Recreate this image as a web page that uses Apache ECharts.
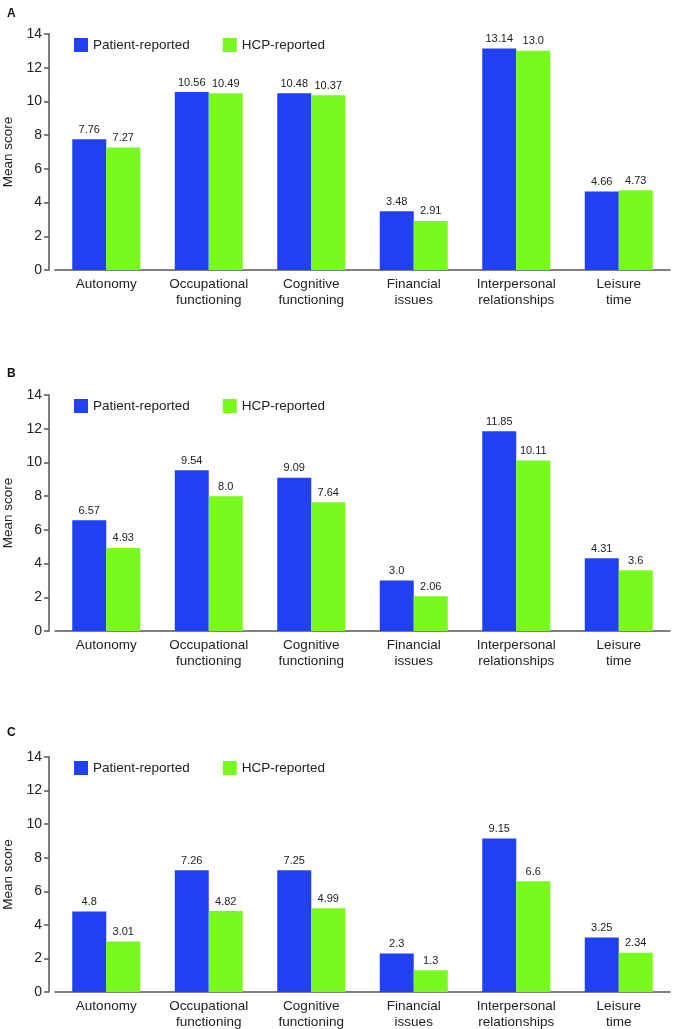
<!DOCTYPE html>
<html>
<head>
<meta charset="utf-8">
<script src="https://cdn.jsdelivr.net/npm/echarts@6/dist/echarts.min.js"></script>
<style>
html,body{margin:0;padding:0;background:#fff;}
#chart{width:679px;height:1029px;}
</style>
</head>
<body>
<div id="chart"></div>
<script>
const categories = ["Autonomy", "Occupational\nfunctioning", "Cognitive\nfunctioning", "Financial\nissues", "Interpersonal\nrelationships", "Leisure\ntime"];
const seriesNames = ["Patient-reported", "HCP-reported"];
const panelLetters = ["A", "B", "C"];
const yTicks = [0, 14, 2]; // min, max, interval
const patientA = ["7.76", "10.56", "10.48", "3.48", "13.14", "4.66"];
const hcpA     = ["7.27", "10.49", "10.37", "2.91", "13.0", "4.73"];
const patientB = ["6.57", "9.54", "9.09", "3.0", "11.85", "4.31"];
const hcpB     = ["4.93", "8.0", "7.64", "2.06", "10.11", "3.6"];
const patientC = ["4.8", "7.26", "7.25", "2.3", "9.15", "3.25"];
const hcpC     = ["3.01", "4.82", "4.99", "1.3", "6.6", "2.34"];

const panels = [[patientA, hcpA], [patientB, hcpB], [patientC, hcpC]];
const gridTops = [34, 395, 757];
const gridHeights = [236, 236, 235];
const letterTops = [3, 363, 722];
const colors = ["#2040F2", "#78FA1E"];
const font = "Liberation Sans, Arial, Helvetica, sans-serif";

const grid = [], xAxis = [], yAxis = [], series = [], legend = [], title = [];
panels.forEach((pd, i) => {
  grid.push({left: 55, right: 9, top: gridTops[i], height: gridHeights[i], containLabel: false, outerBoundsMode: "none"});
  title.push({text: panelLetters[i], left: 2, top: letterTops[i],
    textStyle: {fontSize: 12, fontWeight: "bold", color: "#111", fontFamily: font}});
  legend.push({data: seriesNames, left: 69, top: gridTops[i] - 1, itemWidth: 14, itemHeight: 14,
    itemGap: 33, icon: "rect",
    textStyle: {fontSize: 13.5, color: "#222", fontFamily: font}});
  xAxis.push({type: "category", gridIndex: i, data: categories,
    axisLine: {lineStyle: {color: "#555", width: 1.5}},
    axisTick: {show: false},
    axisLabel: {fontSize: 13.5, color: "#222", fontFamily: font, margin: 7, lineHeight: 15.5, interval: 0}});
  yAxis.push({type: "value", gridIndex: i, min: yTicks[0], max: yTicks[1], interval: yTicks[2], offset: 6,
    name: "Mean score", nameLocation: "middle", nameGap: 33,
    nameTextStyle: {fontSize: 13.5, color: "#222", fontFamily: font},
    axisLine: {show: true, lineStyle: {color: "#555", width: 1.5}},
    axisTick: {show: true, length: 5, lineStyle: {color: "#555", width: 1.5}},
    splitLine: {show: false},
    axisLabel: {fontSize: 14, color: "#222", fontFamily: font, margin: 7}});
  pd.forEach((vals, s) => {
    series.push({type: "bar", name: seriesNames[s], xAxisIndex: i, yAxisIndex: i,
      data: vals, barWidth: 34, barGap: "0%",
      itemStyle: {color: colors[s]},
      label: {show: true, position: "top", distance: 4, fontSize: 11, color: "#222", fontFamily: font,
        formatter: p => p.data}});
  });
});

const chart = echarts.init(document.getElementById("chart"), null, {renderer: "canvas"});
chart.setOption({animation: false, backgroundColor: "#fff", color: colors, title, legend, grid, xAxis, yAxis, series});
</script>
</body>
</html>
